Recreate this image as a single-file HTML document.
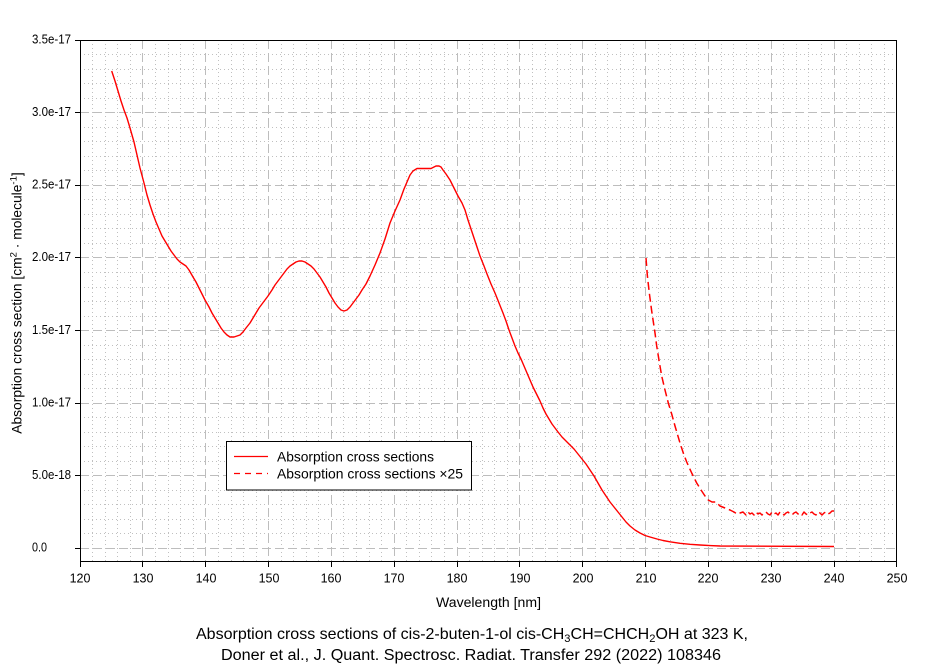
<!DOCTYPE html>
<html><head><meta charset="utf-8"><style>
html,body{margin:0;padding:0;background:#fff;}
svg{display:block;}
text{font-family:"Liberation Sans",Arial,sans-serif;fill:#000;}
</style></head><body>
<svg width="936" height="668" viewBox="0 0 936 668" xmlns="http://www.w3.org/2000/svg">
<rect x="0" y="0" width="936" height="668" fill="#fff"/>
<!-- minor grid -->
<path fill="none" stroke="#c0c0c0" stroke-width="1" stroke-dasharray="1 3" d="
M92.5 40V562 M105.5 40V562 M117.5 40V562 M130.5 40V562
M155.5 40V562 M168.5 40V562 M180.5 40V562 M193.5 40V562
M218.5 40V562 M231.5 40V562 M243.5 40V562 M256.5 40V562
M281.5 40V562 M293.5 40V562 M306.5 40V562 M318.5 40V562
M343.5 40V562 M356.5 40V562 M369.5 40V562 M381.5 40V562
M406.5 40V562 M419.5 40V562 M431.5 40V562 M444.5 40V562
M469.5 40V562 M482.5 40V562 M494.5 40V562 M507.5 40V562
M532.5 40V562 M545.5 40V562 M557.5 40V562 M570.5 40V562
M595.5 40V562 M607.5 40V562 M620.5 40V562 M633.5 40V562
M658.5 40V562 M670.5 40V562 M683.5 40V562 M695.5 40V562
M721.5 40V562 M733.5 40V562 M746.5 40V562 M758.5 40V562
M783.5 40V562 M796.5 40V562 M808.5 40V562 M821.5 40V562
M846.5 40V562 M859.5 40V562 M871.5 40V562 M884.5 40V562
M80 533.5H897 M80 519.5H897 M80 504.5H897 M80 490.5H897
M80 461.5H897 M80 446.5H897 M80 432.5H897 M80 417.5H897
M80 388.5H897 M80 374.5H897 M80 359.5H897 M80 345.5H897
M80 316.5H897 M80 301.5H897 M80 287.5H897 M80 272.5H897
M80 243.5H897 M80 228.5H897 M80 214.5H897 M80 199.5H897
M80 170.5H897 M80 156.5H897 M80 141.5H897 M80 127.5H897
M80 98.5H897 M80 83.5H897 M80 69.5H897 M80 54.5H897"/>
<!-- major grid -->
<path fill="none" stroke="#bdbdbd" stroke-width="1" stroke-dasharray="9 4" d="
M142.5 40V562 M205.5 40V562 M268.5 40V562 M331.5 40V562 M394.5 40V562 M457.5 40V562
M519.5 40V562 M582.5 40V562 M645.5 40V562 M708.5 40V562 M771.5 40V562 M834.5 40V562
M80 548.5H897 M80 475.5H897 M80 403.5H897 M80 330.5H897 M80 257.5H897 M80 185.5H897 M80 112.5H897"/>
<!-- axes box -->
<rect x="80.5" y="40.5" width="816" height="521" fill="none" stroke="#000" stroke-width="1"/>
<!-- ticks -->
<path fill="none" stroke="#000" stroke-width="1" d="
M75 548.5H80 M75 475.5H80 M75 403.5H80 M75 330.5H80 M75 257.5H80 M75 185.5H80 M75 112.5H80 M75 40.5H80
M80.5 562V567 M142.5 562V567 M205.5 562V567 M268.5 562V567 M331.5 562V567 M394.5 562V567 M457.5 562V567
M519.5 562V567 M582.5 562V567 M645.5 562V567 M708.5 562V567 M771.5 562V567 M834.5 562V567 M896.5 562V567"/>
<!-- y tick labels -->
<g font-size="12.5">
<text x="32" y="551.5" textLength="15" lengthAdjust="spacingAndGlyphs">0.0</text>
<text x="32" y="479" textLength="39" lengthAdjust="spacingAndGlyphs">5.0e-18</text>
<text x="32" y="406.5" textLength="39" lengthAdjust="spacingAndGlyphs">1.0e-17</text>
<text x="32" y="334" textLength="39" lengthAdjust="spacingAndGlyphs">1.5e-17</text>
<text x="32" y="261" textLength="39" lengthAdjust="spacingAndGlyphs">2.0e-17</text>
<text x="32" y="188.5" textLength="39" lengthAdjust="spacingAndGlyphs">2.5e-17</text>
<text x="32" y="116" textLength="39" lengthAdjust="spacingAndGlyphs">3.0e-17</text>
<text x="32" y="43.5" textLength="39" lengthAdjust="spacingAndGlyphs">3.5e-17</text>
</g>
<!-- x tick labels -->
<g font-size="12.5" text-anchor="middle">
<text x="80" y="582.5">120</text>
<text x="143" y="582.5">130</text>
<text x="206" y="582.5">140</text>
<text x="269" y="582.5">150</text>
<text x="331" y="582.5">160</text>
<text x="394" y="582.5">170</text>
<text x="457" y="582.5">180</text>
<text x="520" y="582.5">190</text>
<text x="583" y="582.5">200</text>
<text x="646" y="582.5">210</text>
<text x="708" y="582.5">220</text>
<text x="771" y="582.5">230</text>
<text x="834" y="582.5">240</text>
<text x="897" y="582.5">250</text>
</g>
<!-- axis titles -->
<text x="436" y="607" font-size="13.5" textLength="105" lengthAdjust="spacingAndGlyphs">Wavelength [nm]</text>
<text transform="translate(21.5,303) rotate(-90)" font-size="13.8" text-anchor="middle">Absorption cross section [cm<tspan font-size="9.5" dy="-5">2</tspan><tspan dy="5"> · molecule</tspan><tspan font-size="9.5" dy="-5">-1</tspan><tspan dy="5">]</tspan></text>
<!-- caption -->
<text x="196" y="639" font-size="15.8" textLength="552" lengthAdjust="spacingAndGlyphs">Absorption cross sections of cis-2-buten-1-ol cis-CH<tspan font-size="11" dy="3">3</tspan><tspan dy="-3">CH=CHCH</tspan><tspan font-size="11" dy="3">2</tspan><tspan dy="-3">OH at 323 K,</tspan></text>
<text x="221" y="660" font-size="15.5" textLength="500" lengthAdjust="spacingAndGlyphs">Doner et al., J. Quant. Spectrosc. Radiat. Transfer 292 (2022) 108346</text>
<!-- main curve -->
<polyline fill="none" stroke="#ff0000" stroke-width="1.4" stroke-linejoin="round" points="
111.7,71 115,81 118,91 121,101 124,110 127,118 130,128 134,142 137,155 140,168 144,183 147,195 150,205 153,214 156,222 159,229 162,236 165,241 168,246 171,251 174,255 177,259 180,262 183,264 186,266 189,270 193,277 196,282 199,288 202,294 205,300 209,307 212,313 215,318 218,323 221,328 224,332 227,335 230,337 234,337 237,336 240,335 243,332 246,328 250,323 253,318 256,313 259,308 262,304 265,300 268,296 272,290 275,285 278,281 281,277 284,273 287,269 290,266 293,264 296,262 299,261 302,261 305,262 308,264 311,266 314,269 317,273 320,277 323,282 326,287 329,293 332,298 335,303 338,307 341,310 344,311 347,310 350,307 353,303 356,299 359,295 362,290 366,284 370,276 375,265 380,253 385,239 390,223 395,211 400,200 404,189 407,182 410,175 413,171 417,168.5 424,168.5 431,168.5 434,167 436,166 439,166 441,167 443,170 446,174 450,180 454,188 458,196 462,203 465,210 468,220 471,229 474,238 477,247 480,256 484,266 487,274 491,284 495,293 499,303 503,313 506,321 509,330 512,338 515,346 518,353 521,359 524,366 527,373 530,380 533,387 537,395 540,401 543,408 546,414 549,419 552,424 555,428 558,432 562,437 566,441 570,445 574,449 578,454 582,459 586,464 590,470 594,476 598,483 602,490 606,496 610,502 614,507 618,512 622,517 626,522 630,526 635,530 640,533 645,535.5 650,537 657,539 663,540.5 670,541.8 680,543.3 690,544.3 700,545 710,545.6 720,546 834,546.5"/>
<!-- x25 dashed curve -->
<polyline fill="none" stroke="#ff0000" stroke-width="1.5" stroke-dasharray="8 4" stroke-linejoin="round" points="
646,258 647.3,275 649.3,293 651.7,311 655,333 656.7,346 659.3,362 661.7,376 665,390 668.3,403 671.7,414 675,426 680,443 683.3,453 686.7,462 691.7,473 696.7,483 701.7,491 705,496 708.3,500 712,502 716,502 720,506 725,508 730,510 734,512 737,514 740,513 743,512 744,513 746,515 748,512 750,514 752,513 754,515 756,512 758,514 760,513 762,515 764,513 766,512 768,514 770,515 772,512 774,514 776,513 778,515 780,512 782,513 784,515 786,513 788,512 790,514 792,515 794,513 796,512 798,514 800,513 802,515 804,512 806,514 808,515 810,513 812,512 814,514 816,515 818,512 820,513 822,515 824,513 826,512 828,514 830,513 832,511 834,511"/>
<!-- legend -->
<rect x="226.5" y="441.5" width="245" height="48.5" fill="#fff" stroke="#000" stroke-width="1"/>
<line x1="234" y1="456.5" x2="268" y2="456.5" stroke="#ff0000" stroke-width="1.2"/>
<line x1="234" y1="473.5" x2="268" y2="473.5" stroke="#ff0000" stroke-width="1.2" stroke-dasharray="6 5"/>
<text x="277" y="461.5" font-size="14" textLength="157" lengthAdjust="spacingAndGlyphs">Absorption cross sections</text>
<text x="277" y="478.5" font-size="14" textLength="186" lengthAdjust="spacingAndGlyphs">Absorption cross sections ×25</text>
</svg>
</body></html>
